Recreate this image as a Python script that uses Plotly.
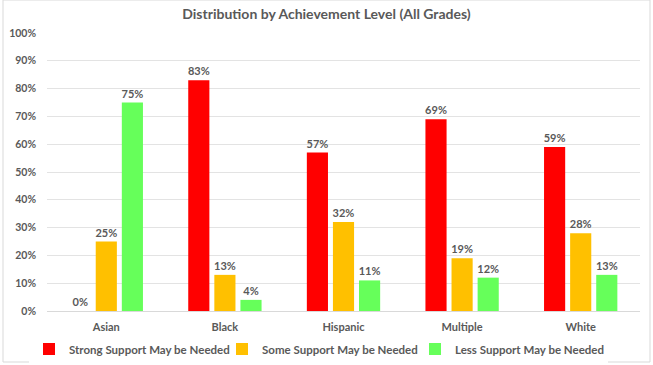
import plotly.graph_objects as go

groups = ["Asian", "Black", "Hispanic", "Multiple", "White"]
series_names = [
    "Strong Support May be Needed",
    "Some Support May be Needed",
    "Less Support May be Needed",
]
strong = [0, 83, 57, 69, 59]
some = [25, 13, 32, 19, 28]
less = [75, 4, 11, 12, 13]
colors = ["#FF0000", "#FFC000", "#66FF5A"]
y_ticks = [0, 10, 20, 30, 40, 50, 60, 70, 80, 90, 100]

W, H = 653, 365
L, R, T, B = 47, 13, 33, 54
FONT = "Lato"
TXT = "#595959"

fig = go.Figure()
for name, vals, col in zip(series_names, [strong, some, less], colors):
    fig.add_trace(go.Bar(
        x=groups, y=vals, name=f"<b>{name}</b>", marker_color=col,
        marker_line_width=0,
        text=[f"<b>{v}%</b>" for v in vals], texttemplate="%{text}",
        textposition="outside",
        textfont=dict(family=FONT, size=11, color=TXT),
        cliponaxis=False,
    ))

# outer frame of the chart area
pw, ph = W - L - R, H - T - B
fig.add_shape(type="rect", xref="paper", yref="paper",
              x0=(3 - L) / pw, x1=(650 - L) / pw,
              y0=-(362 - (H - B)) / ph, y1=(H - B) / ph,
              line=dict(color="#D9D9D9", width=1), layer="below")

fig.update_layout(
    width=W, height=H,
    margin=dict(l=L, r=R, t=T, b=B, autoexpand=False),
    paper_bgcolor="white", plot_bgcolor="white",
    title=dict(text="<b>Distribution by Achievement Level (All Grades)</b>",
               x=0.5, xref="container", y=1 - 14 / H, yanchor="middle",
               font=dict(family=FONT, size=14, color=TXT)),
    barmode="group", bargap=0.34, bargroupgap=0.19,
    font=dict(family=FONT, size=11, color=TXT),
    showlegend=True,
    uniformtext=dict(minsize=11, mode="show"),
    legend=dict(orientation="h", x=29 / W, xanchor="left", xref="container",
                y=1 - 349 / H, yanchor="middle", yref="container",
                font=dict(family=FONT, size=11.5, color=TXT),
                entrywidth=148, entrywidthmode="pixels",
                itemwidth=30, traceorder="normal"),
    xaxis=dict(tickvals=groups, ticktext=[f"<b>{g}</b>" for g in groups],
               tickfont=dict(family=FONT, size=11, color=TXT), tickangle=0,
               showline=True, linecolor="#D9D9D9", ticks="", showgrid=False,
               ticklabelstandoff=6),
    yaxis=dict(range=[0, 100], tickvals=y_ticks,
               ticktext=[f"<b>{v}%</b>" for v in y_ticks],
               tickfont=dict(family=FONT, size=10.5, color=TXT),
               showgrid=True, gridcolor="#E3E3E3", zeroline=False,
               ticks="", ticklabelstandoff=10),
)
fig.write_html("out.html")
